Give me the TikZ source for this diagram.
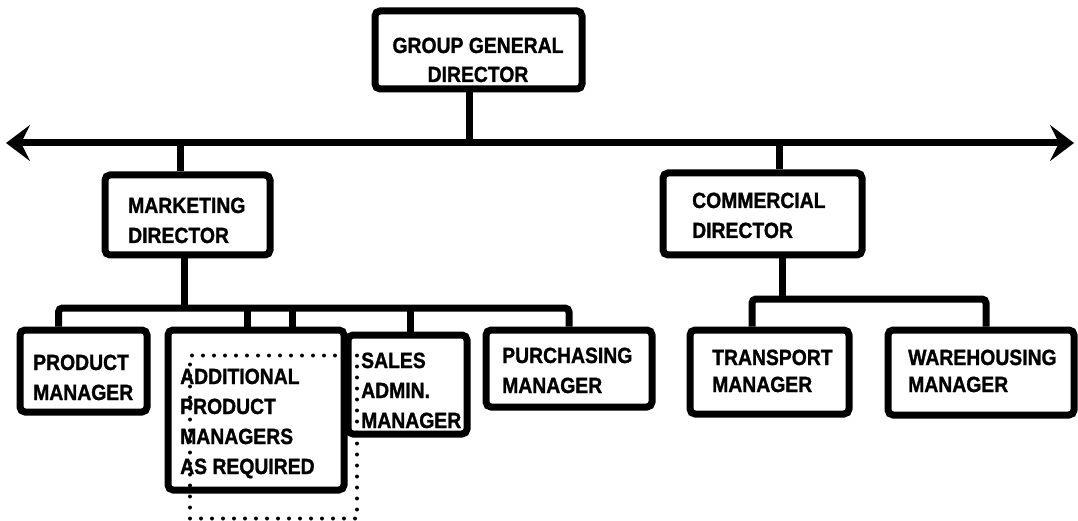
\documentclass[tikz,border=0pt]{standalone}
\usepackage{fontspec}
\setmainfont{Liberation Sans}
\newfontfamily\chartfont[FakeStretch=0.88,FakeBold=1.2]{Liberation Sans}
\usetikzlibrary{arrows.meta}
\begin{document}
\begin{tikzpicture}[x=1pt,y=-1pt,
  post/.style={draw=black, line width=7pt, rounded corners=5pt, fill=white, inner sep=0pt},
  conn/.style={draw=black, line width=7pt, rounded corners=4pt},
  lbl/.style={anchor=base west, align=left, inner sep=0pt,
              font=\chartfont\bfseries\fontsize{22}{30}\selectfont},
  dots/.style={draw=black, line width=4pt, line cap=round, dash pattern=on 0pt off 11pt},
  bighead/.tip={Stealth[length=24pt,width=36pt,inset=9pt]}]
\useasboundingbox (0,0) rectangle (1078,521);

% boxes
\node[post, minimum width=207pt, minimum height=78pt] (gd)  at (478.5,50)  {};
\node[post, minimum width=165pt, minimum height=80pt] (mkt) at (187.5,215) {};
\node[post, minimum width=199pt, minimum height=82pt] (com) at (762.5,214) {};
\node[post, minimum width=127pt, minimum height=82pt] (prod) at (83.5,371) {};
\node[post, minimum width=176pt, minimum height=160pt] (add) at (256,410) {};
\node[post, minimum width=119pt, minimum height=99pt] (sal) at (407.5,384.5) {};
\node[post, minimum width=166pt, minimum height=77pt] (pur) at (569,368.5) {};
\node[post, minimum width=159pt, minimum height=84pt] (tra) at (769.5,372) {};
\node[post, minimum width=186pt, minimum height=85pt] (wh)  at (981,372.5) {};

% further product managers, shown dotted
\node[dots, minimum width=167pt, minimum height=163pt, inner sep=0pt] (more) at (273.5,437) {};

% labels (anchored on the baseline of the last line)
\node[lbl, anchor=base, align=center, font=\chartfont\bfseries\fontsize{22}{29}\selectfont] (tgd) at (478,82) {GROUP GENERAL\\DIRECTOR};
\node[lbl] (tmkt) at (128,243) {MARKETING\\DIRECTOR};
\node[lbl] (tcom) at (692,238) {COMMERCIAL\\DIRECTOR};
\node[lbl] (tprod) at (33,400) {PRODUCT\\MANAGER};
\node[lbl] (tadd) at (180,474) {ADDITIONAL\\PRODUCT\\MANAGERS\\AS REQUIRED};
\node[lbl] (tsal) at (361,428) {SALES\\ADMIN.\\MANAGER};
\node[lbl] (tpur) at (502,393) {PURCHASING\\MANAGER};
\node[lbl, font=\chartfont\bfseries\fontsize{22}{27}\selectfont] (ttra) at (712,392) {TRANSPORT\\MANAGER};
\node[lbl, font=\chartfont\bfseries\fontsize{22}{27}\selectfont] (twh) at (908,392) {WAREHOUSING\\MANAGER};

% main bus with arrows at both ends
\coordinate (bl) at (6,143);
\coordinate (br) at (1074,143);
\draw[conn, bighead-bighead] (bl) -- (br);
\draw[conn] ([xshift=-9pt]gd.south) -- ([xshift=-9pt]gd.south |- bl);
\draw[conn] ([xshift=-7.5pt]mkt.north) -- ([xshift=-7.5pt]mkt.north |- bl);
\draw[conn] ([xshift=16.5pt]com.north) -- ([xshift=16.5pt]com.north |- bl);

% marketing branch
\coordinate (mb) at (184,308);
\draw[conn] ([xshift=-3.5pt]mkt.south) -- (mb);
\draw[conn] ([xshift=-25pt]prod.north) |- (mb) -| (pur.north);
\draw[conn] ([xshift=-9pt]add.north) -- ([xshift=-9pt]add.north |- mb);
\draw[conn] ([xshift=36pt]add.north) -- ([xshift=36pt]add.north |- mb);
\draw[conn] ([xshift=2.5pt]sal.north) -- ([xshift=2.5pt]sal.north |- mb);

% commercial branch
\coordinate (cb) at (782.5,299);
\draw[conn] ([xshift=20pt]com.south) -- (cb);
\draw[conn] ([xshift=-17.5pt]tra.north) |- (cb) -| ([xshift=5pt]wh.north);
\end{tikzpicture}
\end{document}
